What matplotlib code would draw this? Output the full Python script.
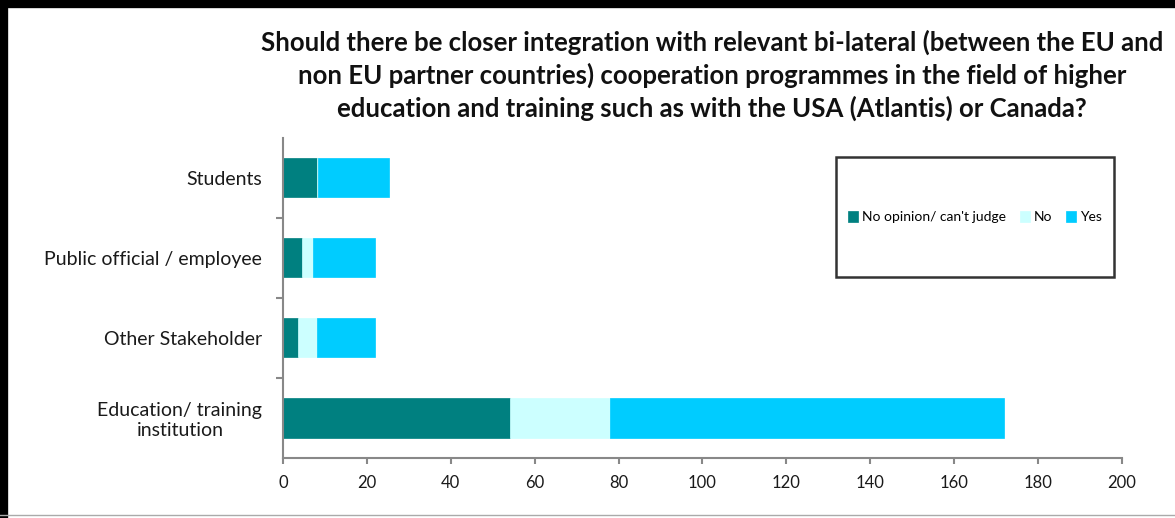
import matplotlib
matplotlib.use("Agg")
import matplotlib.pyplot as plt
from matplotlib.patches import Rectangle
from matplotlib.lines import Line2D

plt.rcParams["font.family"] = ["Lato", "DejaVu Sans"]

# Survey answers per respondent group (bottom to top in the chart)
CATEGORIES = ["Education/ training\ninstitution", "Other Stakeholder",
              "Public official / employee", "Students"]
NO_OPINION = [54, 3.5, 4.5, 8]
NO = [24, 4.5, 2.5, 0.3]
YES = [94, 14, 15, 17]

SERIES = ["No opinion/ can't judge", "No", "Yes"]
COLORS = ["#008080", "#CCFFFF", "#00CCFF"]

TITLE = ("Should there be closer integration with relevant bi-lateral (between the EU and\n"
         "non EU partner countries) cooperation programmes in the field of higher\n"
         "education and training such as with the USA (Atlantis) or Canada?")
X_TICKS = list(range(0, 201, 20))

fig = plt.figure(figsize=(11.75, 5.18), dpi=100)
ax = fig.add_axes([0.241, 0.116, 0.7136, 0.618])

y = list(range(len(CATEGORIES)))
left = [0] * len(CATEGORIES)
for name, vals, col in zip(SERIES, [NO_OPINION, NO, YES], COLORS):
    ax.barh(y, vals, left=left, height=0.49, color=col, label=name,
            edgecolor=col, linewidth=0.5)
    left = [a + b for a, b in zip(left, vals)]

ax.set_xlim(0, 200)
ax.set_ylim(-0.5, len(CATEGORIES) - 0.5)
ax.set_xticks(X_TICKS)
ax.set_yticks(y)
ax.set_yticklabels(CATEGORIES, fontsize=14, color="#1a1a1a")
ax.tick_params(axis="y", length=0, pad=15)
# category separator ticks
ax.set_yticks([i + 0.5 for i in y[:-1]], minor=True)
ax.tick_params(axis="y", which="minor", length=5, color="#888888", width=1.5)
ax.tick_params(axis="x", labelsize=12, labelcolor="#1a1a1a", length=4,
               color="#888888", width=1.5, pad=8)
for lab in ax.get_yticklabels():
    lab.set_multialignment("center")

for s in ["top", "right"]:
    ax.spines[s].set_visible(False)
for s in ["left", "bottom"]:
    ax.spines[s].set_color("#888888")
    ax.spines[s].set_linewidth(1.5)

# legend inside a framed box
ax.add_patch(Rectangle((0.659, 0.566), 0.332, 0.374, transform=ax.transAxes,
                       fill=False, edgecolor="#333333", linewidth=1.8, zorder=5))
ax.legend(loc="center", bbox_to_anchor=(0.659, 0.566, 0.332, 0.374),
          ncol=3, frameon=False, fontsize=10, handlelength=0.7,
          handleheight=0.9, handletextpad=0.3, columnspacing=1.0)

fig.text(0.606, 0.855, TITLE, ha="center", va="center", fontsize=18.5,
         fontweight="bold", color="#111111", linespacing=1.36)

# figure frame: thick black on left/top, thin grey at the bottom
fig.add_artist(Line2D([0.003, 0.003], [0, 1], transform=fig.transFigure,
                      color="black", linewidth=6))
fig.add_artist(Line2D([0, 1], [0.992, 0.992], transform=fig.transFigure,
                      color="black", linewidth=6))
fig.add_artist(Line2D([0.0, 1], [0.006, 0.006], transform=fig.transFigure,
                      color="#aaaaaa", linewidth=1))

fig.savefig("out.png", dpi=100)
